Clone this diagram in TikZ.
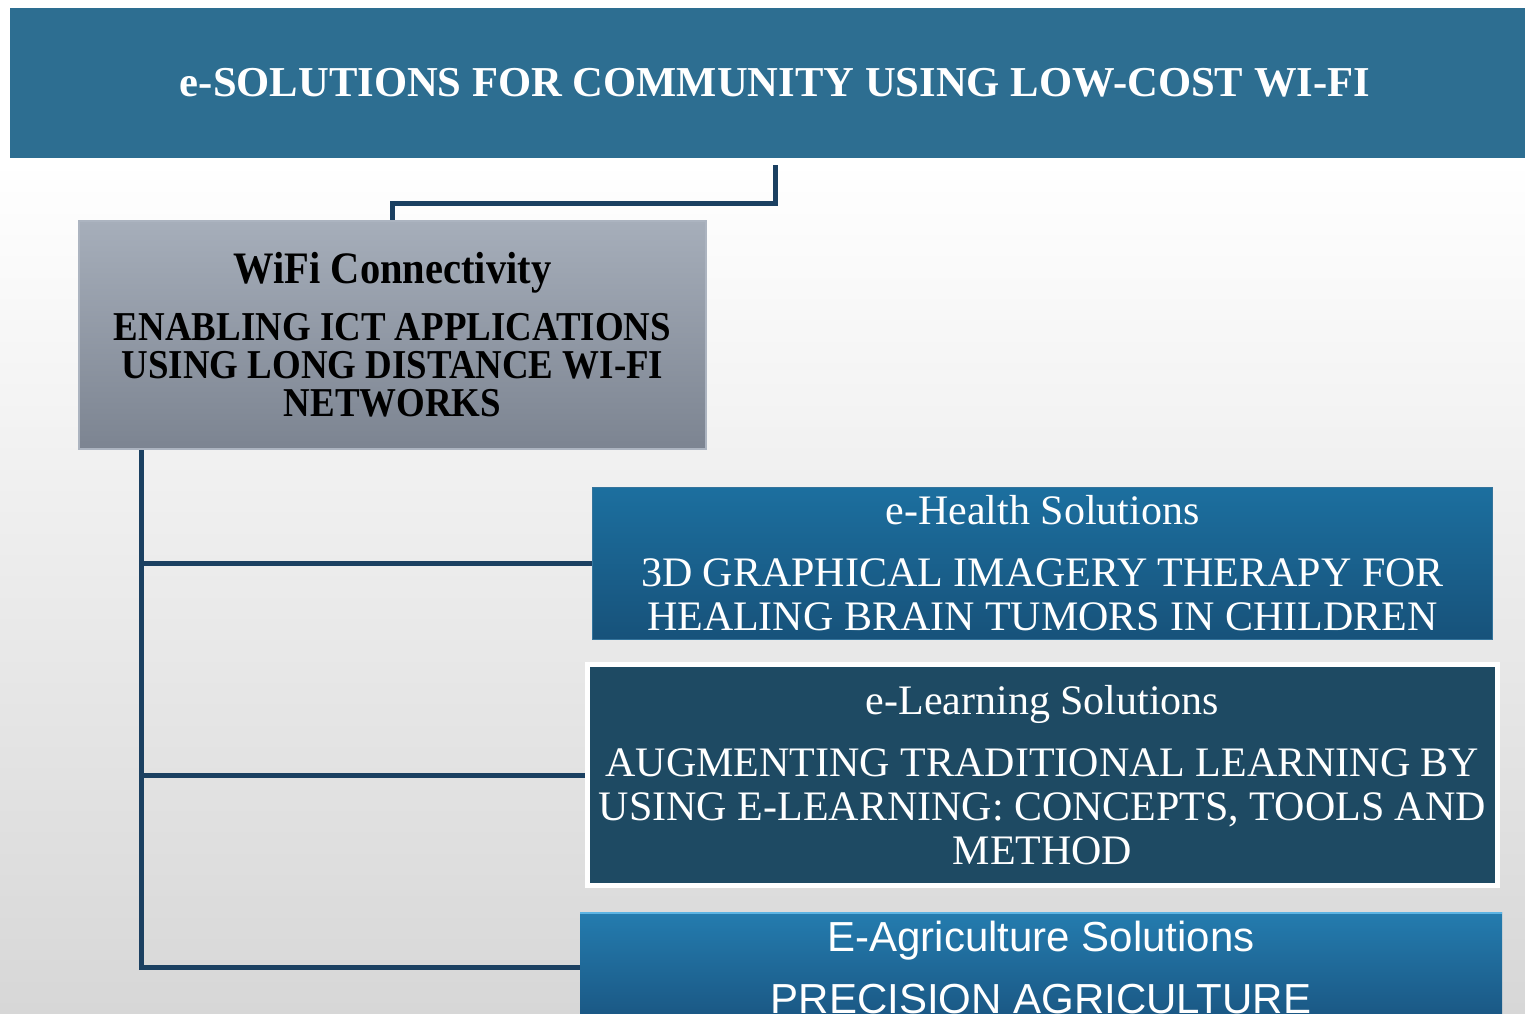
\documentclass[tikz,border=0pt]{standalone}
\usepackage{fontspec}
\setmainfont{Liberation Serif}
\newfontfamily\agrifont{Liberation Sans}
\newfontfamily\wififont{Liberation Serif}[FakeStretch=0.9]
\usetikzlibrary{shadows}
\definecolor{bannerblue}{RGB}{45,110,145}
\definecolor{wifitop}{RGB}{166,174,186}
\definecolor{wifibot}{RGB}{124,132,145}
\definecolor{wifiedge}{RGB}{172,180,192}
\definecolor{healthtop}{RGB}{28,111,159}
\definecolor{healthbot}{RGB}{23,82,122}
\definecolor{healthedge}{RGB}{52,116,156}
\definecolor{learnblue}{RGB}{30,74,99}
\definecolor{agritop}{RGB}{36,124,175}
\definecolor{agribot}{RGB}{26,86,130}
\definecolor{agrihi}{RGB}{92,180,228}
\definecolor{linkblue}{RGB}{27,64,97}
\definecolor{bgbottom}{RGB}{215,215,215}
\tikzstyle{banner} = [rectangle, minimum width=1530pt, minimum height=150pt, inner sep=0pt, fill=bannerblue, text=white, font=\bfseries\fontsize{42.6}{44}\selectfont]
\tikzstyle{wifibox} = [rectangle, minimum width=627pt, minimum height=228pt, top color=wifitop, bottom color=wifibot, draw=wifiedge, line width=2.5pt, text=black, align=center, font=\wififont\bfseries\fontsize{41}{38}\selectfont]
\tikzstyle{healthbox} = [rectangle, minimum width=900pt, minimum height=152pt, top color=healthtop, bottom color=healthbot, draw=healthedge, line width=1.5pt, text=white, align=center, font=\fontsize{42}{44}\selectfont]
\tikzstyle{learnbox} = [rectangle, minimum width=910pt, minimum height=221pt, fill=learnblue, draw=white, line width=5pt, text=white, align=center, font=\fontsize{42}{44}\selectfont]
\tikzstyle{agribox} = [rectangle, minimum width=922pt, minimum height=110pt, top color=agritop, bottom color=agribot, text=white, align=center, font=\agrifont\fontsize{42}{44}\selectfont, drop shadow={shadow xshift=0pt, shadow yshift=-3pt, opacity=0.45}, path picture={\draw[agrihi, line width=4pt] (path picture bounding box.north west) -- (path picture bounding box.north east);}]
\tikzstyle{line} = [draw, line width=5pt, color=linkblue]

\begin{document}
\begin{tikzpicture}[x=1pt, y=1pt, node distance=100pt]
            \useasboundingbox (0,0) rectangle (1525,-1013);
            \clip (0,0) rectangle (1525,-1013);
            
            % Background
            \fill[white] (0,0) rectangle (1525,-160);
            \shade[top color=white, bottom color=bgbottom] (0,-160) rectangle (1525,-1013);
            
            % Nodes
            \node (title) [banner] at (775,-83) {e-SOLUTIONS FOR COMMUNITY USING LOW-COST WI-FI};
            \node (wifi) [wifibox, below of=title, xshift=-382.5pt, yshift=-152pt] {{\fontsize{45}{38}\selectfont WiFi Connectivity}\\[19pt]ENABLING ICT APPLICATIONS\\USING LONG DISTANCE WI-FI\\NETWORKS};
            \node (health) [healthbox, right of=wifi, xshift=550pt, yshift=-228.5pt] {e-Health Solutions\\[18pt]3D GRAPHICAL IMAGERY THERAPY FOR\\HEALING BRAIN TUMORS IN CHILDREN};
            \node (learning) [learnbox, below of=health, yshift=-111.5pt] {e-Learning Solutions\\[18pt]AUGMENTING TRADITIONAL LEARNING BY\\USING E-LEARNING: CONCEPTS, TOOLS AND\\METHOD};
            \node (agri) [agribox, below of=learning, xshift=-1.5pt, yshift=-92pt] {E-Agriculture Solutions\\[18pt]PRECISION AGRICULTURE};
            
            % Draw lines
            \path [line] ([yshift=-7pt]title.south) -- ++(0,-38) -| (wifi.north);
            \path [line] ([xshift=64pt]wifi.south west) |- (health.west);
            \path [line] ([xshift=64pt]wifi.south west) |- (learning.west);
            \path [line] ([xshift=64pt]wifi.south west) |- (agri.west);
        \end{tikzpicture}
\end{document}
